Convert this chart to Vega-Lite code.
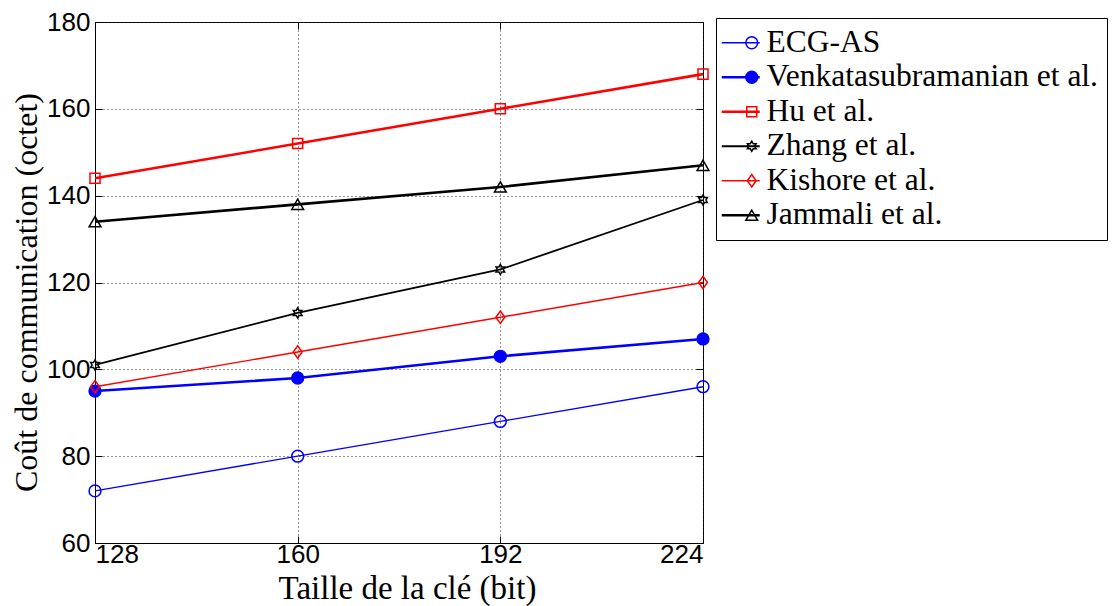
{
  "$schema": "https://vega.github.io/schema/vega-lite/v6.json",
  "width": 608,
  "height": 521,
  "autosize": {"type": "none"},
  "padding": {"left": 95, "top": 22, "right": 417, "bottom": 63},
  "background": "white",
  "config": {
    "view": {"stroke": "black", "strokeWidth": 1},
    "axis": {
      "labelFont": "Liberation Sans",
      "labelFontSize": 26,
      "labelColor": "black",
      "titleFont": "Liberation Serif",
      "titleFontWeight": "normal",
      "titleColor": "black",
      "tickColor": "black",
      "domainColor": "black",
      "gridColor": "#222222",
      "gridDash": [1, 3],
      "gridWidth": 1
    }
  },
  "data": {
    "values": [
      {"series": "ECG-AS", "key": 128, "cost": 72},
      {"series": "ECG-AS", "key": 160, "cost": 80},
      {"series": "ECG-AS", "key": 192, "cost": 88},
      {"series": "ECG-AS", "key": 224, "cost": 96},
      {"series": "Venkatasubramanian et al.", "key": 128, "cost": 95},
      {"series": "Venkatasubramanian et al.", "key": 160, "cost": 98},
      {"series": "Venkatasubramanian et al.", "key": 192, "cost": 103},
      {"series": "Venkatasubramanian et al.", "key": 224, "cost": 107},
      {"series": "Hu et al.", "key": 128, "cost": 144},
      {"series": "Hu et al.", "key": 160, "cost": 152},
      {"series": "Hu et al.", "key": 192, "cost": 160},
      {"series": "Hu et al.", "key": 224, "cost": 168},
      {"series": "Zhang et al.", "key": 128, "cost": 101},
      {"series": "Zhang et al.", "key": 160, "cost": 113},
      {"series": "Zhang et al.", "key": 192, "cost": 123},
      {"series": "Zhang et al.", "key": 224, "cost": 139},
      {"series": "Kishore et al.", "key": 128, "cost": 96},
      {"series": "Kishore et al.", "key": 160, "cost": 104},
      {"series": "Kishore et al.", "key": 192, "cost": 112},
      {"series": "Kishore et al.", "key": 224, "cost": 120},
      {"series": "Jammali et al.", "key": 128, "cost": 134},
      {"series": "Jammali et al.", "key": 160, "cost": 138},
      {"series": "Jammali et al.", "key": 192, "cost": 142},
      {"series": "Jammali et al.", "key": 224, "cost": 147}
    ]
  },
  "layer": [
    {
      "mark": {"type": "line"},
      "encoding": {
        "x": {
          "field": "key", "type": "quantitative",
          "scale": {"domain": [128, 224], "nice": false, "zero": false},
          "axis": {
            "orient": "bottom",
            "values": [128, 160, 192, 224],
            "grid": true,
            "tickSize": -7,
            "labelPadding": 5,
            "title": "Taille de la clé  (bit)",
            "titleFontSize": 33,
            "titleX": 312,
            "titleY": 55,
            "titleAlign": "center",
            "titleBaseline": "alphabetic"
          }
        },
        "y": {
          "field": "cost", "type": "quantitative",
          "scale": {"domain": [60, 180], "nice": false, "zero": false},
          "axis": {
            "orient": "left",
            "values": [60, 80, 100, 120, 140, 160, 180],
            "grid": true,
            "tickSize": -7,
            "labelPadding": 12,
            "title": "Coût de communication (octet)",
            "titleFontSize": 32,
            "titleAngle": -90,
            "titleX": -59,
            "titleY": 270,
            "titleAlign": "center",
            "titleBaseline": "alphabetic"
          }
        },
        "stroke": {
          "field": "series", "type": "nominal",
          "sort": ["ECG-AS", "Venkatasubramanian et al.", "Hu et al.", "Zhang et al.", "Kishore et al.", "Jammali et al."],
          "scale": {"range": ["#0000ff", "#0000ff", "#ff0000", "#000000", "#ff0000", "#000000"]},
          "legend": {
            "orient": "none",
            "legendX": 621,
            "legendY": -4,
            "title": null,
            "strokeColor": "black",
            "padding": 9,
            "symbolType": "stroke",
            "symbolSize": 1444,
            "symbolStrokeWidth": 1.5,
            "labelFont": "Liberation Serif",
            "labelFontSize": 31.5,
            "labelColor": "black",
            "labelOffset": 10,
            "labelLimit": 500,
            "rowPadding": 1.5,
            "encode": {
              "symbols": {
                "update": {
                  "strokeWidth": {"signal": "indexof(['Venkatasubramanian et al.','Hu et al.','Jammali et al.'], datum.value) >= 0 ? 2.6 : (datum.value === 'Zhang et al.' ? 1.8 : 1.4)"}
                }
              }
            }
          }
        },
        "strokeWidth": {
          "condition": [
            {"test": "datum.series === 'Venkatasubramanian et al.' || datum.series === 'Hu et al.' || datum.series === 'Jammali et al.'", "value": 2.6},
            {"test": "datum.series === 'Zhang et al.'", "value": 1.8}
          ],
          "value": 1.4
        }
      }
    },
    {
      "mark": {"type": "point", "filled": false, "size": 140, "strokeWidth": 1.5, "opacity": 1},
      "encoding": {
        "x": {
          "field": "key", "type": "quantitative",
          "axis": {"orient": "top", "labels": false, "grid": false, "domain": false, "tickSize": -7, "title": null, "values": [128, 160, 192, 224]}
        },
        "y": {
          "field": "cost", "type": "quantitative",
          "axis": {"orient": "right", "labels": false, "grid": false, "domain": false, "tickSize": -7, "title": null, "values": [60, 80, 100, 120, 140, 160, 180]}
        },
        "color": {
          "field": "series", "type": "nominal",
          "scale": {
            "domain": ["ECG-AS", "Venkatasubramanian et al.", "Hu et al.", "Zhang et al.", "Kishore et al.", "Jammali et al."],
            "range": ["#0000ff", "#0000ff", "#ff0000", "#000000", "#ff0000", "#000000"]
          },
          "legend": {
            "orient": "none",
            "legendX": 632,
            "legendY": -4,
            "title": null,
            "padding": 9,
            "symbolSize": 140,
            "symbolStrokeWidth": 1.5,
            "labelFont": "Liberation Serif",
            "labelFontSize": 31.5,
            "labelExpr": "''",
            "labelOffset": 8,
            "labelLimit": 500,
            "rowPadding": 1.5
          }
        },
        "fill": {
          "field": "series", "type": "nominal",
          "scale": {
            "domain": ["ECG-AS", "Venkatasubramanian et al.", "Hu et al.", "Zhang et al.", "Kishore et al.", "Jammali et al."],
            "range": ["transparent", "#0000ff", "transparent", "transparent", "transparent", "transparent"]
          }
        },
        "shape": {
          "field": "series", "type": "nominal",
          "scale": {
            "domain": ["ECG-AS", "Venkatasubramanian et al.", "Hu et al.", "Zhang et al.", "Kishore et al.", "Jammali et al."],
            "range": ["circle", "circle", "M-0.85,-0.85L0.85,-0.85L0.85,0.85L-0.85,0.85Z", "M0,-0.85L0.245,-0.425L0.736,-0.425L0.49,0L0.736,0.425L0.245,0.425L0,0.85L-0.245,0.425L-0.736,0.425L-0.49,0L-0.736,-0.425L-0.245,-0.425Z", "M0,-1.05L0.75,0L0,1.05L-0.75,0Z", "triangle-up"]
          }
        }
      }
    }
  ],
  "resolve": {"axis": {"x": "independent", "y": "independent"}}
}
